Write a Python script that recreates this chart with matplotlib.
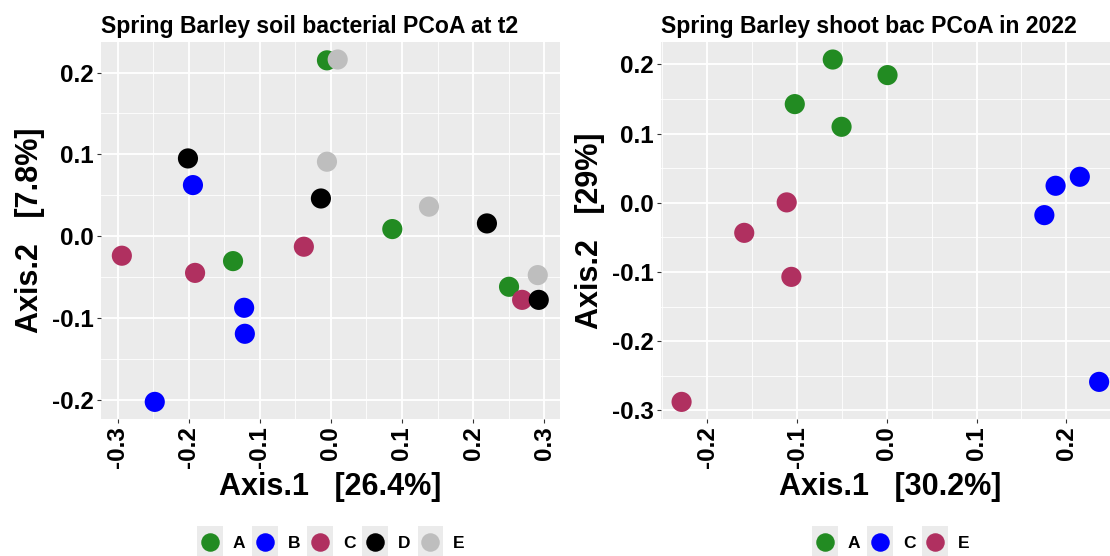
import matplotlib
matplotlib.use("Agg")
import matplotlib.pyplot as plt
from matplotlib.ticker import MultipleLocator
from matplotlib.legend_handler import HandlerBase
from matplotlib.patches import Rectangle
from matplotlib.lines import Line2D

plt.rcParams['font.family'] = ['Liberation Sans', 'DejaVu Sans']
plt.rcParams['font.weight'] = 'bold'
plt.rcParams['axes.unicode_minus'] = False

# ---------------- data: left panel (soil, t2) ----------------
soil_groups = ["A", "B", "C", "D", "E"]
soil_x = {
    "A": [-0.0055, 0.0864, -0.1376, 0.2506],
    "B": [-0.194, -0.122, -0.121, -0.2477],
    "C": [-0.294, -0.191, -0.038, 0.269],
    "D": [-0.201, -0.014, 0.2195, 0.2924],
    "E": [0.0096, -0.0055, 0.138, 0.291],
}
soil_y = {
    "A": [0.215, 0.0086, -0.0306, -0.062],
    "B": [0.0624, -0.0877, -0.1195, -0.2028],
    "C": [-0.024, -0.045, -0.013, -0.078],
    "D": [0.095, 0.046, 0.0155, -0.078],
    "E": [0.216, 0.091, 0.036, -0.0477],
}
soil_title = "Spring Barley soil bacterial PCoA at t2"
soil_xlabel = "Axis.1   [26.4%]"
soil_ylabel = "Axis.2   [7.8%]"

# ---------------- data: right panel (shoot, 2022) ----------------
shoot_groups = ["A", "C", "E"]
shoot_x = {
    "A": [-0.0602, 0.0008, -0.1025, -0.0504],
    "C": [0.215, 0.188, 0.1755, 0.2365],
    "E": [-0.1115, -0.1588, -0.1063, -0.2286],
}
shoot_y = {
    "A": [0.207, 0.1845, 0.1426, 0.1098],
    "C": [0.0376, 0.0246, -0.0178, -0.2587],
    "E": [0.0006, -0.0434, -0.107, -0.2876],
}
shoot_title = "Spring Barley shoot bac PCoA in 2022"
shoot_xlabel = "Axis.1   [30.2%]"
shoot_ylabel = "Axis.2   [29%]"

soil_colors = {"A": "#228B22", "B": "#0000FF", "C": "#B03060", "D": "#000000", "E": "#BEBEBE"}
shoot_colors = {"A": "#228B22", "C": "#0000FF", "E": "#B03060"}

W, H = 1110, 556
fig = plt.figure(figsize=(W / 100, H / 100), dpi=100)

MS = 14.5  # marker diameter in points


class KeyHandler(HandlerBase):
    def create_artists(self, legend, orig_handle, xdescent, ydescent,
                       width, height, fontsize, trans):
        rect = Rectangle((-xdescent, -ydescent - 4), width, height + 8,
                         facecolor="#EBEBEB", edgecolor="none", transform=trans)
        c = Line2D([-xdescent + width / 2], [-ydescent + height / 2], marker="o",
                   markersize=MS * 0.85, color=orig_handle.get_color(),
                   linestyle="none", transform=trans)
        return [rect, c]


def panel(ax, groups, xs, ys, colors, title, xlabel, ylabel):
    ax.set_facecolor("#EBEBEB")
    for g in groups:
        ax.scatter(xs[g], ys[g], s=MS ** 2, color=colors[g], edgecolors="none",
                   zorder=3, label=g)
    ax.margins(0.05)
    ax.xaxis.set_major_locator(MultipleLocator(0.1))
    ax.yaxis.set_major_locator(MultipleLocator(0.1))
    ax.xaxis.set_minor_locator(MultipleLocator(0.05))
    ax.yaxis.set_minor_locator(MultipleLocator(0.05))
    ax.grid(which="major", color="white", linewidth=1.3, zorder=0)
    ax.grid(which="minor", color="white", linewidth=0.6, zorder=0)
    ax.set_axisbelow(True)
    for s in ax.spines.values():
        s.set_visible(False)
    ax.tick_params(which="minor", length=0)
    ax.tick_params(which="major", length=3, width=0.8, color="#333333",
                   labelsize=17.5, labelcolor="black", pad=2)
    ax.tick_params(axis="x", labelrotation=90)
    ax.set_title(title, loc="left", fontsize=16.6, fontweight="bold", pad=7)
    ax.set_xlabel(xlabel, fontsize=22, fontweight="bold", labelpad=3)
    ax.set_ylabel(ylabel, fontsize=22, fontweight="bold", labelpad=5)


ax1 = fig.add_axes([101 / W, 1 - 419 / H, (559.6 - 101) / W, (419 - 42.4) / H])
panel(ax1, soil_groups, soil_x, soil_y, soil_colors, soil_title, soil_xlabel, soil_ylabel)

ax2 = fig.add_axes([660.7 / W, 1 - 419 / H, (1120 - 660.7) / W, (419 - 42.4) / H])
panel(ax2, shoot_groups, shoot_x, shoot_y, shoot_colors, shoot_title, shoot_xlabel, shoot_ylabel)


def add_legend(groups, colors, cx):
    handles = [Line2D([], [], color=colors[g]) for g in groups]
    fig.legend(handles, groups, loc="center", bbox_to_anchor=(cx / W, 1 - 542 / H),
               ncol=len(groups), frameon=False, handler_map={Line2D: KeyHandler()},
               handlelength=1.45, handleheight=1.45, handletextpad=0.6,
               columnspacing=0.4, prop={"weight": "bold", "size": 12.5},
               borderaxespad=0, borderpad=0)


add_legend(soil_groups, soil_colors, 331)
add_legend(shoot_groups, shoot_colors, 891)

fig.savefig("out.png", dpi=100)
